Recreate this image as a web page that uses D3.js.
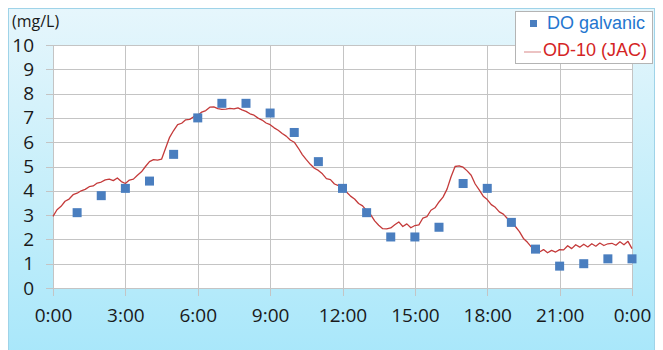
<!DOCTYPE html>
<html>
<head>
<meta charset="utf-8">
<script src="https://cdn.jsdelivr.net/npm/d3@7"></script>
<style>
html,body{margin:0;padding:0;background:#fff;}
svg{display:block;}
</style>
</head>
<body>
<svg id="chart" width="663" height="350"></svg>
<script>
// ---- data ----
const yTicks = [0,1,2,3,4,5,6,7,8,9,10];
const xTickHours = [0,3,6,9,12,15,18,21,24];
const xTickLabels = ["0:00","3:00","6:00","9:00","12:00","15:00","18:00","21:00","0:00"];
const unitLabel = "(mg/L)";
const seriesNames = ["DO galvanic","OD-10 (JAC)"];

// DO galvanic: hourly readings 1:00 .. 24:00
const doHours = [1,2,3,4,5,6,7,8,9,10,11,12,13,14,15,16,17,18,19,20,21,22,23,24];
const doValues = [3.1,3.8,4.1,4.4,5.5,7.0,7.6,7.6,7.2,6.4,5.2,4.1,3.1,2.1,2.1,2.5,4.3,4.1,2.7,1.6,0.9,1.0,1.2,1.2];

// OD-10 (JAC): readings every 10 minutes from 0:00 to 24:00
const odStepMinutes = 10;
const odValues = [
  2.95,3.22,3.36,3.57,3.66,3.84,
  3.9,4.0,4.06,4.17,4.2,4.32,
  4.36,4.45,4.48,4.42,4.53,4.38,
  4.3,4.44,4.48,4.64,4.78,5.0,
  5.2,5.28,5.26,5.3,5.75,6.2,
  6.48,6.72,6.78,6.92,6.94,7.05,
  7.1,7.24,7.3,7.44,7.45,7.38,
  7.35,7.36,7.39,7.37,7.41,7.33,
  7.27,7.17,7.11,6.99,6.91,6.79,
  6.72,6.59,6.49,6.36,6.25,6.09,
  6.0,5.76,5.49,5.28,5.09,4.93,
  4.84,4.7,4.5,4.46,4.28,4.21,
  4.06,3.95,3.78,3.66,3.48,3.38,
  3.18,3.02,2.76,2.58,2.44,2.43,
  2.47,2.6,2.72,2.53,2.64,2.48,
  2.57,2.6,2.88,2.94,3.2,3.3,
  3.54,3.74,4.07,4.58,5.0,5.03,
  4.97,4.82,4.64,4.28,4.04,3.78,
  3.64,3.43,3.32,3.13,3.04,2.86,
  2.78,2.53,2.32,2.04,1.88,1.68,
  1.64,1.48,1.58,1.45,1.55,1.48,
  1.58,1.57,1.74,1.62,1.78,1.68,
  1.8,1.69,1.82,1.72,1.85,1.75,
  1.82,1.84,1.76,1.9,1.78,1.92,
  1.62
];

// ---- drawing ----
const svg = d3.select("#chart");
const W = 663, H = 350;
const plot = {left:53, right:632, top:45, bottom:288};

const defs = svg.append("defs");
const grad = defs.append("linearGradient").attr("id","bg").attr("x1",0).attr("y1",0).attr("x2",0).attr("y2",1);
grad.append("stop").attr("offset","0%").attr("stop-color","#e6f6fc");
grad.append("stop").attr("offset","55%").attr("stop-color","#c4eefa");
grad.append("stop").attr("offset","100%").attr("stop-color","#a8e7fa");

svg.append("rect").attr("x",0).attr("y",0).attr("width",W).attr("height",H).attr("fill","#fff");
svg.append("rect").attr("x",8.5).attr("y",8.5).attr("width",646).attr("height",350)
  .attr("fill","url(#bg)").attr("stroke","#9fd3e8").attr("stroke-width",1);

const x = d3.scaleLinear().domain([0,24]).range([plot.left, plot.right]);
const y = d3.scaleLinear().domain([0,10]).range([plot.bottom, plot.top]);

svg.append("rect").attr("x",plot.left).attr("y",plot.top)
  .attr("width",plot.right-plot.left).attr("height",plot.bottom-plot.top).attr("fill","#fff");

// y axis with gridlines
const yAxis = svg.append("g").attr("transform","translate(46,0)")
  .call(d3.axisLeft(y).tickValues(yTicks).tickFormat(d3.format("d"))
    .tickSizeInner(-(plot.right-46)).tickSizeOuter(0).tickPadding(12));
yAxis.select(".domain").remove();
yAxis.selectAll("line").attr("stroke","#c4c4c4").attr("shape-rendering","crispEdges");
yAxis.selectAll("text").attr("font-family","'Open Sans', sans-serif").attr("font-size",19).attr("fill","#1a1a1a");

// x axis with gridlines
const tickMap = new Map(xTickHours.map((h,i)=>[h,xTickLabels[i]]));
const xAxis = svg.append("g").attr("transform",`translate(0,${plot.top})`)
  .call(d3.axisBottom(x).tickValues(xTickHours).tickFormat(d=>tickMap.get(d))
    .tickSizeInner(296-plot.top).tickSizeOuter(0).tickPadding(13));
xAxis.select(".domain").remove();
xAxis.selectAll("line").attr("stroke","#c4c4c4").attr("shape-rendering","crispEdges");
xAxis.selectAll("text").attr("font-family","'Open Sans', sans-serif").attr("font-size",19).attr("fill","#1a1a1a");

// unit label
svg.append("text").attr("x",12).attr("y",27).text(unitLabel)
  .attr("font-family","'Open Sans', sans-serif").attr("font-size",16).attr("fill","#1a1a1a");

// OD line
const line = d3.line().x((d,i)=>x(i*odStepMinutes/60)).y(d=>y(d));
svg.append("path").datum(odValues).attr("d",line)
  .attr("fill","none").attr("stroke","#c43a3a").attr("stroke-width",1.3).attr("stroke-linejoin","round");

// DO squares
const sq = 9;
svg.append("g").selectAll("rect").data(doHours).join("rect")
  .attr("x",(h)=>x(h)-sq/2).attr("y",(h,i)=>y(doValues[i])-sq/2)
  .attr("width",sq).attr("height",sq).attr("fill","#4a7ebf");

// legend
const lg = svg.append("g");
lg.append("rect").attr("x",515.5).attr("y",11.5).attr("width",137).attr("height",52)
  .attr("fill","#fff").attr("stroke","#b4b4b4");
lg.append("rect").attr("x",530).attr("y",20).attr("width",7).attr("height",7).attr("fill","#4a7ebf");
lg.append("text").attr("x",547).attr("y",29).text(seriesNames[0])
  .attr("font-family","'Liberation Sans', Arial, sans-serif").attr("font-size",18).attr("fill","#2476cf");
lg.append("line").attr("x1",524).attr("x2",541).attr("y1",52).attr("y2",52)
  .attr("stroke","#e09a9a").attr("stroke-width",1.2);
lg.append("text").attr("x",543).attr("y",56).text(seriesNames[1])
  .attr("font-family","'Liberation Sans', Arial, sans-serif").attr("font-size",18).attr("fill","#d42424");
</script>
</body>
</html>
